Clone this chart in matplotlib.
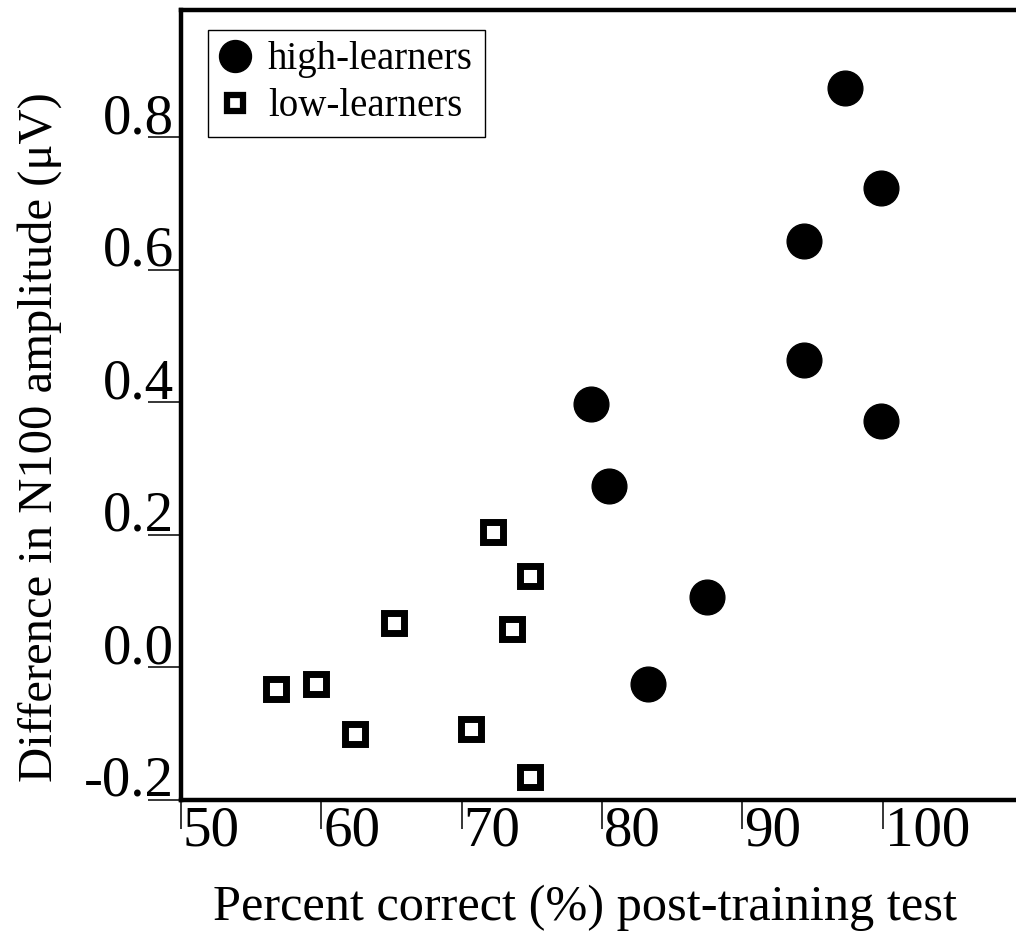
"""
Scatter of N100 amplitude change vs post-training score, high vs low learners.
"""

import matplotlib
matplotlib.use("Agg")
import matplotlib.pyplot as plt
import matplotlib.transforms as mtransforms

# high-learners (filled circles)
high_x = [79.2, 80.5, 87.5, 83.3, 97.3, 99.9, 94.4, 94.4, 99.9]
high_y = [0.398, 0.274, 0.106, -0.025, 0.875, 0.724, 0.644, 0.464, 0.372]

# low-learners (open squares)
low_x = [56.8, 59.6, 62.4, 65.2, 70.7, 72.2, 73.6, 74.9, 74.9]
low_y = [-0.033, -0.025, -0.100, 0.067, -0.093, 0.205, 0.058, 0.138, -0.165]

x_ticks = [50, 60, 70, 80, 90, 100]
x_tick_labels = ["50", "60", "70", "80", "90", "100"]
y_ticks = [-0.2, 0.0, 0.2, 0.4, 0.6, 0.8]
y_tick_labels = ["-0.2", "0.0", "0.2", "0.4", "0.6", "0.8"]

plt.rcParams["font.family"] = ["Liberation Serif", "DejaVu Serif"]

fig = plt.figure(figsize=(10.16, 9.35), dpi=100)
ax = fig.add_axes([181 / 1016, 135 / 935, 835 / 1016, 790 / 935])

ax.plot(high_x, high_y, "o", color="black", markersize=25, label="high-learners")
ax.plot(low_x, low_y, "s", markerfacecolor="white", markeredgecolor="black",
        markeredgewidth=5, markersize=15, label="low-learners")

ax.set_xlim(50, 109.5)
ax.set_ylim(-0.2, 0.992)

for side in ["left", "top", "bottom"]:
    ax.spines[side].set_linewidth(3.2)
ax.spines["right"].set_visible(False)

ax.set_xticks(x_ticks)
ax.set_yticks(y_ticks)
ax.tick_params(axis="x", direction="out", length=21, width=1.1, labelbottom=False)
ax.tick_params(axis="y", direction="out", length=24, width=1.1, labelleft=False)

# tick labels sit beside the tick marks, like the original figure
fs_tick = 41
for v, lab in zip(x_ticks, x_tick_labels):
    tr = ax.get_xaxis_transform() + mtransforms.ScaledTranslation(2 / 100, -6 / 100, fig.dpi_scale_trans)
    ax.text(v, 0, lab, transform=tr, ha="left", va="top", fontsize=fs_tick)
for v, lab in zip(y_ticks, y_tick_labels):
    tr = ax.get_yaxis_transform() + mtransforms.ScaledTranslation(-7 / 100, 4 / 100, fig.dpi_scale_trans)
    ax.text(0, v, lab, transform=tr, ha="right", va="baseline", fontsize=fs_tick)

fig.text(585 / 1016, 1 - 908 / 935, "Percent correct (%) post-training test",
         ha="center", va="center", fontsize=36.3)
fig.text(40 / 1016, 1 - 437 / 935, "Difference in N100 amplitude (\u03bcV)",
         ha="center", va="center", rotation=90, fontsize=35)

leg = ax.legend(loc="upper left", bbox_to_anchor=(0.032, 0.975), fontsize=28,
                frameon=True, fancybox=False, edgecolor="black", framealpha=1,
                handlelength=0.8, handletextpad=0.45, borderpad=0.3,
                labelspacing=0.25, borderaxespad=0)
leg.get_frame().set_linewidth(1.0)
leg.legend_handles[0].set_markersize(23)
leg.legend_handles[1].set_markersize(11)
leg.legend_handles[1].set_markeredgewidth(4.5)

fig.savefig("out.png", dpi=100)
